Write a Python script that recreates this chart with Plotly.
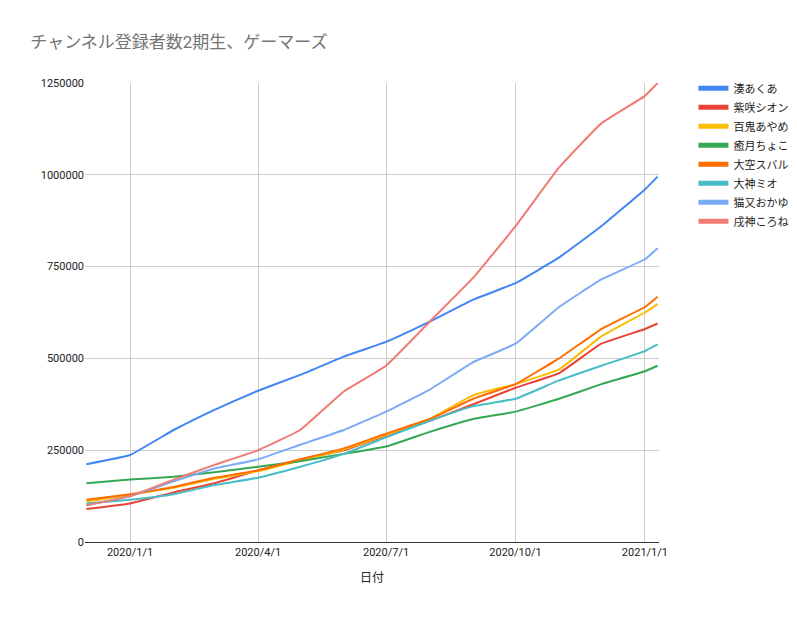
import plotly.graph_objects as go

dates = ["2019-12-01","2020-01-01","2020-02-01","2020-03-01","2020-04-01","2020-05-01","2020-06-01",
         "2020-07-01","2020-08-01","2020-09-01","2020-10-01","2020-11-01","2020-12-01","2021-01-01","2021-01-10"]
names = ["湊あくあ","紫咲シオン","百鬼あやめ","癒月ちょこ","大空スバル","大神ミオ","猫又おかゆ","戌神ころね"]
aqua   = [212,237,305,360,412,455,505,545,600,660,705,775,860,960,995]
shion  = [90,105,135,160,195,225,250,290,330,375,420,460,540,580,595]
ayame  = [110,128,148,172,193,222,252,292,335,400,430,470,560,625,648]
choco  = [160,170,178,190,205,220,240,260,300,335,355,390,430,465,480]
subaru = [115,130,150,175,195,225,255,295,335,390,430,500,580,640,668]
mio    = [105,115,130,155,175,205,240,285,330,370,390,440,480,520,538]
okayu  = [100,125,165,200,225,265,305,355,415,490,540,640,715,770,800]
korone = [100,125,170,210,250,305,410,480,600,720,860,1020,1140,1215,1250]
series = [aqua,shion,ayame,choco,subaru,mio,okayu,korone]
colors = ["#4285F4","#EA4335","#FBBC04","#34A853","#FF6D01","#46BDC6","#7BAAF7","#F07B72"]

fig = go.Figure()
for n, s, c in zip(names, series, colors):
    fig.add_trace(go.Scatter(x=dates, y=[v*1000 for v in s], name=n, mode="lines",
                             line=dict(color=c, width=2, shape="spline", smoothing=0.3)))
fig.update_layout(
    width=797, height=626, paper_bgcolor="white", plot_bgcolor="white",
    font=dict(family="Roboto, Noto Sans CJK JP, sans-serif", color="#222", size=11),
    title=dict(text="チャンネル登録者数2期生、ゲーマーズ", x=0.028, y=0.955, xanchor="left",
               font=dict(size=17, color="#757575")),
    margin=dict(l=77, r=137, t=75, b=92),
    legend=dict(x=1.06, y=1.02, yanchor="top", font=dict(size=11), bgcolor="rgba(0,0,0,0)",
                tracegroupgap=6),
    showlegend=True,
)
fig.update_xaxes(range=["2019-11-30","2021-01-11"], tickvals=["2020-01-01","2020-04-01","2020-07-01","2020-10-01","2021-01-01"],
                 ticktext=["2020/1/1","2020/4/1","2020/7/1","2020/10/1","2021/1/1"],
                 showgrid=True, gridcolor="#ccc", title=dict(text="日付", font=dict(size=12)),
                 showline=True, linecolor="#333", ticks="", zeroline=False)
fig.update_yaxes(range=[0,1250000], tickvals=[0,250000,500000,750000,1000000,1250000],
                 tickformat="d", showgrid=True, gridcolor="#ccc", zeroline=False, ticks="")
fig.update_layout(legend=dict(traceorder="normal", itemsizing="constant"))
fig.write_html("out.html")
